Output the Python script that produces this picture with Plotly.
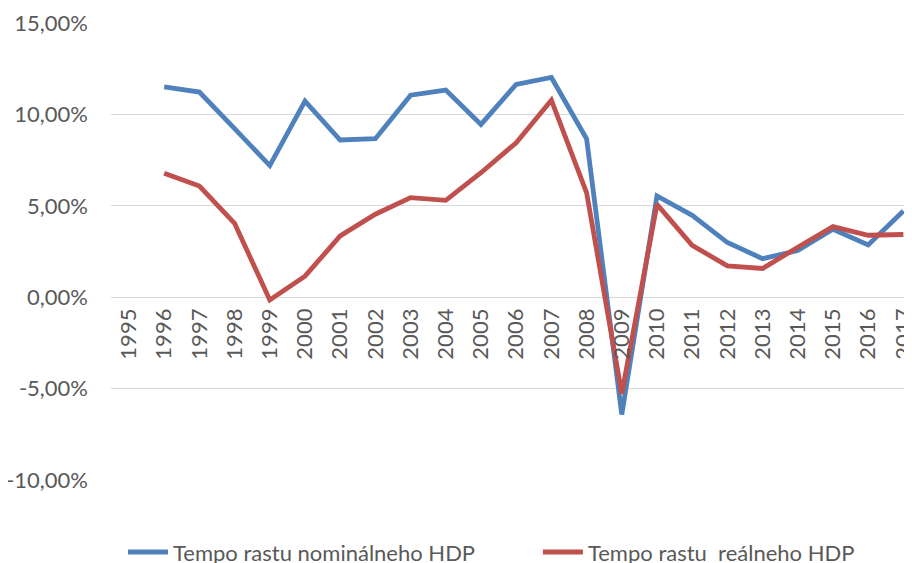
import plotly.graph_objects as go

years = [str(y) for y in range(1995, 2018)]
nominal = [None, 11.51, 11.22, 9.22, 7.2, 10.73, 8.60, 8.67, 11.05, 11.33, 9.45, 11.64,
           12.02, 8.67, -6.42, 5.54, 4.48, 2.99, 2.11, 2.55, 3.72, 2.86, 4.72]
real = [None, 6.78, 6.08, 4.04, -0.15, 1.15, 3.35, 4.54, 5.45, 5.30, 6.81, 8.45,
        10.78, 5.72, -5.28, 5.08, 2.84, 1.71, 1.57, 2.73, 3.86, 3.39, 3.43]
y_tickvals = [-10, -5, 0, 5, 10, 15]
y_ticktext = ["-10,00%", "-5,00%", "0,00%", "5,00%", "10,00%", "15,00%"]
names = ["Tempo rastu nominálneho HDP", "Tempo rastu  reálneho HDP"]

FONT = "Lato"
GREY = "#595959"
FS = 22

fig = go.Figure()
fig.add_trace(go.Scatter(x=years, y=nominal, mode="lines", name=names[0],
                         line=dict(color="#4F81BD", width=4.8), legend="legend"))
fig.add_trace(go.Scatter(x=years, y=real, mode="lines", name=names[1],
                         line=dict(color="#C0504D", width=4.8), legend="legend2"))

leg_common = dict(orientation="h", xanchor="left", yanchor="top", y=-0.112,
                  font=dict(family=FONT, size=FS, color=GREY), itemwidth=40,
                  bgcolor="rgba(0,0,0,0)", borderwidth=0)

fig.update_layout(
    width=904, height=555,
    margin=dict(l=103, r=0, t=15, b=83, autoexpand=False),
    plot_bgcolor="white", paper_bgcolor="white",
    font=dict(family=FONT, size=FS, color=GREY),
    showlegend=True,
    legend=dict(x=0.015, **leg_common),
    legend2=dict(x=0.533, **leg_common),
)
fig.update_xaxes(
    type="category", range=[-0.511, 22.245],
    anchor="free", position=0.4,
    showgrid=False, showline=False, zeroline=False,
    tickangle=-90, ticks="", ticklabelstandoff=6,
    tickfont=dict(family=FONT, size=FS, color=GREY),
)
fig.update_yaxes(
    range=[-10, 15], tickvals=y_tickvals, ticktext=y_ticktext,
    showgrid=True, gridcolor="#D9D9D9", gridwidth=1.3,
    zeroline=True, zerolinecolor="#D9D9D9", zerolinewidth=1.3,
    showline=False, ticks="", ticklabelstandoff=22,
    tickfont=dict(family=FONT, size=FS, color=GREY),
)

fig.write_html("out.html")
